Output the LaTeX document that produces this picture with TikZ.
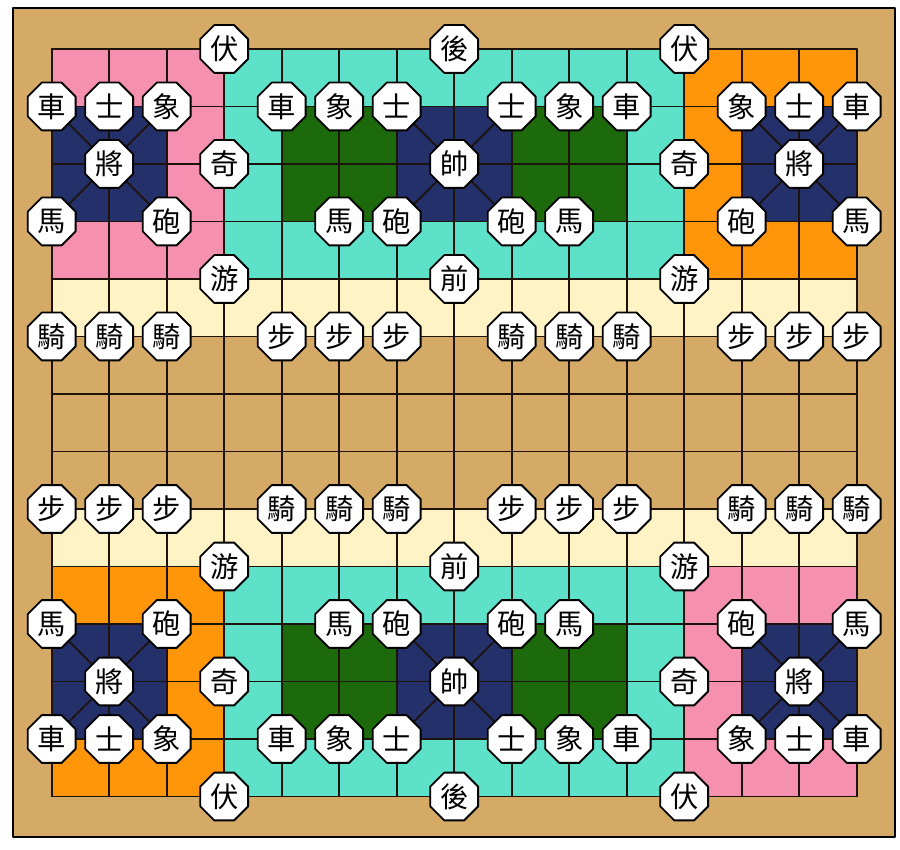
\documentclass[tikz,border=0pt]{standalone}
\usepackage{fontspec}
\newfontfamily\cjk{Noto Sans CJK TC}
\usetikzlibrary{shapes.geometric}

\definecolor{plateau}{HTML}{D5AA66}
\definecolor{rose}{HTML}{F690B0}
\definecolor{turquoise}{HTML}{5EE1C9}
\definecolor{orange}{HTML}{FF9508}
\definecolor{creme}{HTML}{FFF2C5}
\definecolor{marine}{HTML}{24306A}
\definecolor{foret}{HTML}{1C6A0C}

\tikzset{
  pion/.style={regular polygon, regular polygon sides=8, draw=black, fill=white,
    line width=0.9pt, minimum size=0.9cm, inner sep=0pt,
    font=\cjk\fontsize{14}{14}\selectfont},
  trait/.style={line width=0.9pt, draw=black!85!brown}
}

\begin{document}
\begin{tikzpicture}[line join=round, line cap=round]

    \useasboundingbox (-0.899,-0.930) rectangle (14.753,13.852);

    % Fond du plateau
    \fill[white] (-0.899,-0.930) rectangle (14.753,13.852);
    \filldraw[fill=plateau, draw=black, line width=1pt] (-0.67,-0.70) rectangle (14.67,13.71);

    % Zones de couleur (haut)
    \fill[rose] (0,9) rectangle (3,13);
    \fill[turquoise] (3,9) rectangle (11,13);
    \fill[orange] (11,9) rectangle (14,13);
    \fill[creme] (0,8) rectangle (14,9);
    % Zones de couleur (bas)
    \fill[creme] (0,4) rectangle (14,5);
    \fill[orange] (0,0) rectangle (3,4);
    \fill[turquoise] (3,0) rectangle (11,4);
    \fill[rose] (11,0) rectangle (14,4);

    % Palais et camps
    \foreach \y in {10,1} {
        \foreach \x in {0,6,12} {
            \fill[marine] (\x,\y) rectangle ++(2,2);
        }
        \foreach \x in {4,8} {
            \fill[foret] (\x,\y) rectangle ++(2,2);
        }
    }

    % Quadrillage
    \foreach \x in {0,...,14} {
        \draw[trait] (\x,0) -- (\x,13);
    }
    \foreach \y in {0,...,13} {
        \draw[trait] (0,\y) -- (14,\y);
    }

    % Diagonales des palais
    \foreach \y in {10,1} {
        \foreach \x in {0,6,12} {
            \draw[trait] (\x,\y) -- ++(2,2);
            \draw[trait] (\x+2,\y) -- ++(-2,2);
        }
    }

    % Pions
    \foreach \y in {13,0} {
        \foreach \x/\t in {3/伏, 7/後, 11/伏} {
            \node[pion] (p\x-\y) at (\x,\y) {\t};
        }
    }
    \foreach \y in {12,1} {
        \foreach \x/\t in {0/車, 1/士, 2/象, 4/車, 5/象, 6/士, 8/士, 9/象, 10/車, 12/象, 13/士, 14/車} {
            \node[pion] (p\x-\y) at (\x,\y) {\t};
        }
    }
    \foreach \y in {11,2} {
        \foreach \x/\t in {1/將, 3/奇, 7/帥, 11/奇, 13/將} {
            \node[pion] (p\x-\y) at (\x,\y) {\t};
        }
    }
    \foreach \y in {10,3} {
        \foreach \x/\t in {0/馬, 2/砲, 5/馬, 6/砲, 8/砲, 9/馬, 12/砲, 14/馬} {
            \node[pion] (p\x-\y) at (\x,\y) {\t};
        }
    }
    \foreach \y in {9,4} {
        \foreach \x/\t in {3/游, 7/前, 11/游} {
            \node[pion] (p\x-\y) at (\x,\y) {\t};
        }
    }
    \foreach \x/\t in {0/騎, 1/騎, 2/騎, 4/步, 5/步, 6/步, 8/騎, 9/騎, 10/騎, 12/步, 13/步, 14/步} {
        \node[pion] (p\x-8) at (\x,8) {\t};
    }
    \foreach \x/\t in {0/步, 1/步, 2/步, 4/騎, 5/騎, 6/騎, 8/步, 9/步, 10/步, 12/騎, 13/騎, 14/騎} {
        \node[pion] (p\x-5) at (\x,5) {\t};
    }

\end{tikzpicture}
\end{document}
